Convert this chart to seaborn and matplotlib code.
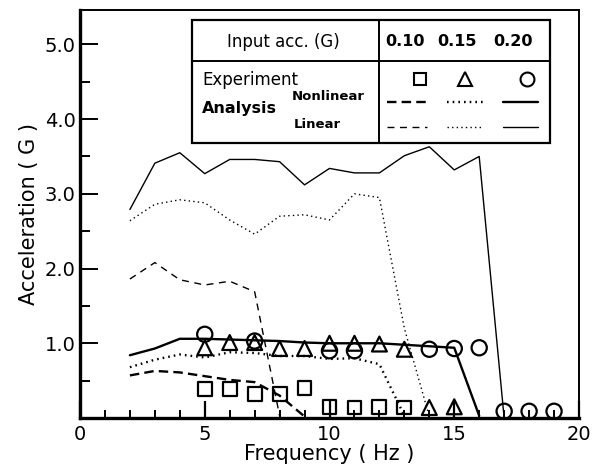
import numpy as np
import pandas as pd
import matplotlib
matplotlib.use("Agg")
import matplotlib.pyplot as plt
from matplotlib.lines import Line2D
from matplotlib.ticker import MultipleLocator, FixedLocator
import seaborn as sns

# ---------------- data ----------------
lin_020_f = [2, 3, 4, 5, 6, 7, 8, 9, 10, 11, 12, 13, 14, 15, 16, 17]
lin_020_a = [2.79, 3.41, 3.55, 3.27, 3.46, 3.46, 3.43, 3.12, 3.34, 3.28, 3.28, 3.51, 3.63, 3.32, 3.50, 0.0]
lin_015_f = [2, 3, 4, 5, 6, 7, 8, 9, 10, 11, 12, 13, 14]
lin_015_a = [2.64, 2.86, 2.92, 2.88, 2.65, 2.46, 2.70, 2.72, 2.65, 3.00, 2.95, 1.20, 0.02]
lin_010_f = [2, 3, 4, 5, 6, 7, 8]
lin_010_a = [1.86, 2.08, 1.85, 1.78, 1.83, 1.69, 0.03]

non_020_f = [2, 3, 4, 5, 6, 7, 8, 9, 10, 11, 12, 13, 14, 15, 16]
non_020_a = [0.84, 0.93, 1.06, 1.06, 1.05, 1.04, 1.03, 1.01, 1.00, 1.00, 1.00, 0.98, 0.96, 0.94, 0.03]
non_015_f = [2, 3, 4, 5, 6, 7, 8, 9, 10, 11, 12, 13]
non_015_a = [0.68, 0.78, 0.85, 0.81, 0.88, 0.87, 0.83, 0.83, 0.79, 0.80, 0.72, 0.03]
non_010_f = [2, 3, 4, 5, 6, 7, 8, 9]
non_010_a = [0.57, 0.63, 0.61, 0.56, 0.51, 0.48, 0.30, 0.02]

exp_010_f = [5, 6, 7, 8, 9, 10, 11, 12, 13]
exp_010_a = [0.39, 0.39, 0.32, 0.32, 0.40, 0.15, 0.14, 0.15, 0.14]
exp_015_f = [5, 6, 7, 8, 9, 10, 11, 12, 13, 14, 15]
exp_015_a = [0.94, 1.01, 1.01, 0.93, 0.93, 1.00, 1.00, 0.99, 0.92, 0.14, 0.15]
exp_020_f = [5, 7, 10, 11, 14, 15, 16, 17, 18, 19]
exp_020_a = [1.12, 1.03, 0.90, 0.90, 0.92, 0.93, 0.94, 0.09, 0.09, 0.09]

x_tick_labels = ["0", "5", "10", "15", "20"]
y_tick_labels = ["1.0", "2.0", "3.0", "4.0", "5.0"]
input_levels = ["0.10", "0.15", "0.20"]

# ---------------- style ----------------
sns.set_style("ticks")
plt.rcParams["font.family"] = ["DejaVu Sans"]
for k in ["text.color", "axes.labelcolor", "xtick.color", "ytick.color", "axes.edgecolor"]:
    plt.rcParams[k] = "black"

W, H = 604, 476
fig = plt.figure(figsize=(W / 100, H / 100), dpi=100)
ax = fig.add_axes([80 / W, 1 - 418 / H, (579 - 80) / W, (418 - 10) / H])

def pix(px, py):
    return px / W, 1 - py / H

lin_lw, non_lw = 1.0, 1.7
styles = {
    "0.10": dict(non=(0, (4.0, 2.2)), lin=(0, (5.0, 4.0))),
    "0.15": dict(non=(0, (0.7, 1.7)), lin=(0, (1.0, 2.3))),
    "0.20": dict(non="-", lin="-"),
}

series = [
    (lin_010_f, lin_010_a, styles["0.10"]["lin"], lin_lw),
    (lin_015_f, lin_015_a, styles["0.15"]["lin"], lin_lw),
    (lin_020_f, lin_020_a, styles["0.20"]["lin"], lin_lw),
    (non_010_f, non_010_a, styles["0.10"]["non"], non_lw),
    (non_015_f, non_015_a, styles["0.15"]["non"], non_lw),
    (non_020_f, non_020_a, styles["0.20"]["non"], non_lw),
]
for f, a, ls, lw in series:
    df = pd.DataFrame({"freq": f, "acc": a})
    sns.lineplot(data=df, x="freq", y="acc", ax=ax, color="black",
                 linestyle=ls, linewidth=lw, legend=False, sort=False,
                 estimator=None)

for f, a, m, s in [(exp_010_f, exp_010_a, "s", 100),
                   (exp_015_f, exp_015_a, "^", 115),
                   (exp_020_f, exp_020_a, "o", 120)]:
    df = pd.DataFrame({"freq": f, "acc": a})
    sns.scatterplot(data=df, x="freq", y="acc", ax=ax, marker=m, s=s,
                    facecolors="none", edgecolor="black", linewidth=1.6,
                    legend=False, zorder=5)

ax.set_xlim(0, 20)
ax.set_ylim(0, 5.46)
ax.xaxis.set_major_locator(FixedLocator([0, 5, 10, 15, 20]))
ax.set_xticklabels(x_tick_labels)
ax.xaxis.set_minor_locator(MultipleLocator(1))
ax.yaxis.set_major_locator(FixedLocator([1, 2, 3, 4, 5]))
ax.set_yticklabels(y_tick_labels)
ax.yaxis.set_minor_locator(FixedLocator([0.5, 1.5, 2.5, 3.5, 4.5]))
ax.tick_params(axis="x", which="major", direction="in", length=12, width=1.6,
               labelsize=14, pad=5, colors="black")
ax.tick_params(axis="x", which="minor", direction="in", length=6, width=1.4, colors="black")
ax.tick_params(axis="y", which="major", direction="in", length=13, width=1.4,
               labelsize=14, pad=3, colors="black")
ax.tick_params(axis="y", which="minor", direction="in", length=7, width=1.4, colors="black")
for sp in ["left", "bottom"]:
    ax.spines[sp].set_linewidth(2.4)
for sp in ["top", "right"]:
    ax.spines[sp].set_linewidth(1.4)
    ax.spines[sp].set_visible(True)
for sp in ax.spines.values():
    sp.set_color("black")

ax.set_xlabel("Frequency ( Hz )", fontsize=15, labelpad=0, color="black")
ax.set_ylabel("Acceleration ( G )", fontsize=15, labelpad=4, color="black")

# ---------------- legend table ----------------
x0, y0 = pix(192, 20)
x1, y1 = pix(550, 143)
fig.add_artist(plt.Rectangle((x0, y1), x1 - x0, y0 - y1, transform=fig.transFigure,
                             facecolor="white", edgecolor="black", lw=1.6, zorder=10))
xs, _ = pix(379, 0)
fig.add_artist(Line2D([xs, xs], [y0, y1], transform=fig.transFigure, color="black",
                      lw=1.4, zorder=11))
_, yh = pix(0, 61)
fig.add_artist(Line2D([x0, x1], [yh, yh], transform=fig.transFigure, color="black",
                      lw=1.4, zorder=11))

def ftext(px, py, s, **kw):
    fx, fy = pix(px, py)
    fig.text(fx, fy, s, transform=fig.transFigure, zorder=12, color="black", **kw)

ftext(283, 42, "Input acc. (G)", fontsize=12, ha="center", va="center")
for cx, lab in zip([405, 457, 513], input_levels):
    ftext(cx, 42, lab, fontsize=11.5, ha="center", va="center", fontweight="bold")
ftext(202, 80, "Experiment", fontsize=12, ha="left", va="center")
ftext(202, 108, "Analysis", fontsize=11.5, ha="left", va="center", fontweight="bold")
ftext(292, 96, "Nonlinear", fontsize=9.5, ha="left", va="center", fontweight="bold")
ftext(294, 125, "Linear", fontsize=9.5, ha="left", va="center", fontweight="bold")

for cx, m, ms in [(420, "s", 9), (465, "^", 10), (527, "o", 10)]:
    fx, fy = pix(cx, 79)
    fig.add_artist(Line2D([fx], [fy], transform=fig.transFigure, marker=m, ms=ms,
                          mfc="none", mec="black", mew=1.5, ls="none", zorder=12))

for (xa, xb), lev in zip([(387, 427), (447, 483), (503, 538)], input_levels):
    for py, key, lw in [(102, "non", non_lw), (127, "lin", lin_lw)]:
        fa, fy = pix(xa, py)
        fb, _ = pix(xb, py)
        fig.add_artist(Line2D([fa, fb], [fy, fy], transform=fig.transFigure,
                              color="black", lw=lw, ls=styles[lev][key], zorder=12))

fig.savefig("out.png", dpi=100)
